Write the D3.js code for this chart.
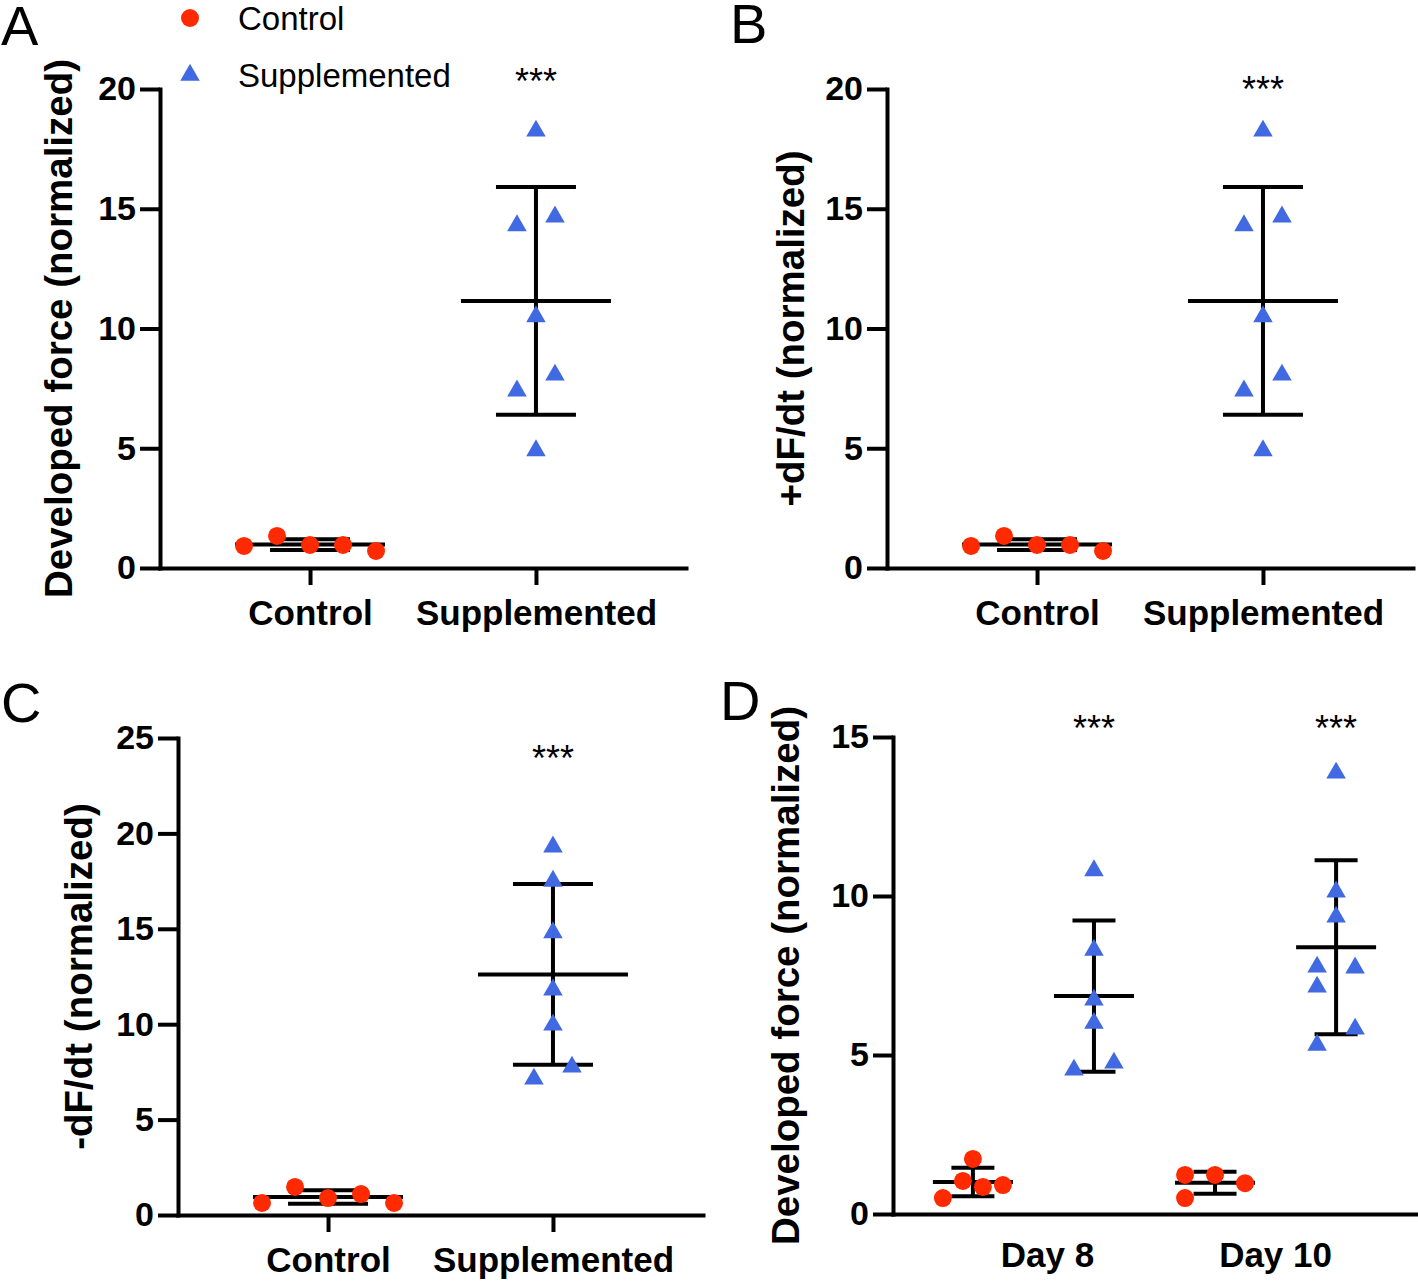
<!DOCTYPE html>
<html><head><meta charset="utf-8">
<script src="https://cdn.jsdelivr.net/npm/d3@7"></script>
<style>body{margin:0;background:#fff}svg{display:block}</style>
</head><body>
<svg id="chart" width="1418" height="1282"></svg>
<script>
// ---------------- DATA ----------------
const groupsAB = ["Control", "Supplemented"];
const groupsD = ["Day 8", "Day 10"];
const seriesNames = ["Control", "Supplemented"];

const panelA_control = [0.92, 1.34, 0.96, 0.96, 0.71];
const panelA_supp = [18.25, 14.3, 14.66, 10.5, 8.06, 7.4, 4.9];
const panelB_control = [0.92, 1.34, 0.96, 0.96, 0.71];
const panelB_supp = [18.25, 14.3, 14.66, 10.5, 8.06, 7.4, 4.9];
const panelC_control = [0.63, 1.47, 0.89, 1.1, 0.63];
const panelC_supp = [19.3, 17.5, 14.8, 11.8, 9.96, 7.76, 7.13];
const panelD_control8 = [0.5, 1.04, 1.73, 0.85, 0.91];
const panelD_supp8 = [10.8, 8.3, 6.73, 6.0, 4.53, 4.75];
const panelD_control10 = [1.23, 0.5, 1.23, 0.97];
const panelD_supp10 = [13.87, 10.13, 9.34, 7.77, 7.74, 7.14, 5.82, 5.31];

const ticksAB = [0, 5, 10, 15, 20];
const ticksC = [0, 5, 10, 15, 20, 25];
const ticksD = [0, 5, 10, 15];
const significance = "***";

// ---------------- STYLE / LAYOUT ----------------
const RED = "#ff2a00", BLUE = "#4169e1";
const FONT = "'Liberation Sans', Arial, Helvetica, sans-serif";
const svg = d3.select("#chart");

function drawPanel(cfg) {
  const g = svg.append("g");
  const y = d3.scaleLinear().domain([0, cfg.yMax]).range([cfg.yBottom, cfg.yTop]);
  const x = d3.scalePoint().domain(cfg.keys).range([cfg.xLeft, cfg.xRight]).padding(cfg.pad);

  const ya = g.append("g").attr("transform", `translate(${cfg.xLeft},0)`)
    .call(d3.axisLeft(y).tickValues(cfg.ticks).tickSize(20).tickSizeOuter(0).tickPadding(4));
  const xa = g.append("g").attr("transform", `translate(0,${cfg.yBottom})`)
    .call(d3.axisBottom(x).tickSize(cfg.xTicks ? 17 : 0).tickSizeOuter(0).tickFormat(cfg.xLabels ? (d => cfg.xLabels[d]) : () => "").tickPadding(8));
  [ya, xa].forEach(a => {
    a.selectAll("path.domain").attr("stroke", "#000").attr("stroke-width", 4).attr("stroke-linecap", "square");
    a.selectAll(".tick line").attr("stroke", "#000").attr("stroke-width", 4);
    a.selectAll("text").attr("fill", "#000").style("font-family", FONT).style("font-weight", "bold");
  });
  ya.selectAll("text").style("font-size", "34px");
  xa.selectAll("text").style("font-size", "35px").attr("dy", "0.9em");

  cfg.series.forEach(s => {
    const m = d3.mean(s.values), sd = d3.deviation(s.values);
    const cx = x(s.key);
    const eb = g.append("g").attr("stroke", "#000").attr("stroke-width", 4).attr("fill", "none");
    eb.append("line").attr("x1", cx).attr("x2", cx).attr("y1", y(m - sd)).attr("y2", y(m + sd));
    eb.append("line").attr("x1", cx - cfg.meanW / 2).attr("x2", cx + cfg.meanW / 2).attr("y1", y(m)).attr("y2", y(m));
    [m - sd, m + sd].forEach(v => eb.append("line").attr("x1", cx - cfg.capW / 2).attr("x2", cx + cfg.capW / 2).attr("y1", y(v)).attr("y2", y(v)));
  });
  cfg.series.forEach(s => {
    const cx = x(s.key);
    s.values.forEach((v, i) => {
      const px = cx + s.lanes[i] * s.spacing, py = y(v);
      if (s.type === "circle") {
        g.append("circle").attr("cx", px).attr("cy", py).attr("r", 9).attr("fill", RED);
      } else {
        g.append("path").attr("d", d3.symbol(d3.symbolTriangle, 165)()).attr("transform", `translate(${px},${py})`).attr("fill", BLUE);
      }
    });
    if (s.star) {
      g.append("text").attr("x", cx).attr("y", s.starY).attr("text-anchor", "middle")
        .style("font-family", FONT).style("font-size", "36px").text(significance);
    }
  });

  if (cfg.groupLabels) {
    cfg.groupLabels.forEach(gl => {
      g.append("text").attr("x", (x(gl.a) + x(gl.b)) / 2 + gl.dx).attr("y", cfg.yBottom + 53)
        .attr("text-anchor", "middle").style("font-family", FONT).style("font-weight", "bold").style("font-size", "35px").text(gl.text);
    });
  }

  g.append("text").attr("transform", `translate(${cfg.titleX},${(cfg.yTop + cfg.yBottom) / 2}) rotate(-90)`)
    .attr("text-anchor", "middle").attr("dominant-baseline", "central")
    .style("font-family", FONT).style("font-weight", "bold").style("font-size", "38.5px").text(cfg.title);

  g.append("text").attr("x", cfg.letterX).attr("y", cfg.letterY)
    .style("font-family", FONT).style("font-size", "56px").text(cfg.letter);
}

drawPanel({
  letter: "A", letterX: 1, letterY: 45, title: "Developed force (normalized)", titleX: 58,
  xLeft: 160, xRight: 686, yTop: 89, yBottom: 568, yMax: 20, ticks: ticksAB, pad: 0.664,
  keys: groupsAB, xLabels: {Control: groupsAB[0], Supplemented: groupsAB[1]}, xTicks: true, meanW: 150, capW: 80,
  series: [
    {key: groupsAB[0], values: panelA_control, type: "circle", lanes: [-2, -1, 0, 1, 2], spacing: 33},
    {key: groupsAB[1], values: panelA_supp, type: "tri", lanes: [0, -1, 1, 0, 1, -1, 0], spacing: 19, star: true, starY: 94}
  ]
});
drawPanel({
  letter: "B", letterX: 730, letterY: 43, title: "+dF/dt (normalized)", titleX: 790,
  xLeft: 887, xRight: 1413, yTop: 89, yBottom: 568, yMax: 20, ticks: ticksAB, pad: 0.664,
  keys: groupsAB, xLabels: {Control: groupsAB[0], Supplemented: groupsAB[1]}, xTicks: true, meanW: 150, capW: 80,
  series: [
    {key: groupsAB[0], values: panelB_control, type: "circle", lanes: [-2, -1, 0, 1, 2], spacing: 33},
    {key: groupsAB[1], values: panelB_supp, type: "tri", lanes: [0, -1, 1, 0, 1, -1, 0], spacing: 19, star: true, starY: 102}
  ]
});
drawPanel({
  letter: "C", letterX: 1, letterY: 722, title: "-dF/dt (normalized)", titleX: 78,
  xLeft: 178, xRight: 703, yTop: 738, yBottom: 1215, yMax: 25, ticks: ticksC, pad: 0.667,
  keys: groupsAB, xLabels: {Control: groupsAB[0], Supplemented: groupsAB[1]}, xTicks: true, meanW: 150, capW: 80,
  series: [
    {key: groupsAB[0], values: panelC_control, type: "circle", lanes: [-2, -1, 0, 1, 2], spacing: 33},
    {key: groupsAB[1], values: panelC_supp, type: "tri", lanes: [0, 0, 0, 0, 0, 1, -1], spacing: 19, star: true, starY: 771}
  ]
});
drawPanel({
  letter: "D", letterX: 720, letterY: 720, title: "Developed force (normalized)", titleX: 785,
  xLeft: 893, xRight: 1416, yTop: 737, yBottom: 1214, yMax: 15, ticks: ticksD, pad: 0.66,
  keys: ["c8", "s8", "c10", "s10"], xTicks: false, meanW: 80, capW: 43,
  groupLabels: [{a: "c8", b: "s8", text: groupsD[0], dx: 14}, {a: "c10", b: "s10", text: groupsD[1], dx: 0}],
  series: [
    {key: "c8", values: panelD_control8, type: "circle", lanes: [-3, -1, 0, 1, 3], spacing: 10},
    {key: "s8", values: panelD_supp8, type: "tri", lanes: [0, 0, 0, 0, -2, 2], spacing: 10, star: true, starY: 741},
    {key: "c10", values: panelD_control10, type: "circle", lanes: [-3, -3, 0, 3], spacing: 10},
    {key: "s10", values: panelD_supp10, type: "tri", lanes: [0, 0, 0, -2, 2, -2, 2, -2], spacing: 9.5, star: true, starY: 741}
  ]
});

const lg = svg.append("g");
lg.append("circle").attr("cx", 190).attr("cy", 18).attr("r", 9).attr("fill", RED);
lg.append("path").attr("d", d3.symbol(d3.symbolTriangle, 165)()).attr("transform", "translate(190,75)").attr("fill", BLUE);
lg.append("text").attr("x", 238).attr("y", 30).style("font-family", FONT).style("font-size", "33px").text(seriesNames[0]);
lg.append("text").attr("x", 238).attr("y", 87).style("font-family", FONT).style("font-size", "33px").text(seriesNames[1]);
</script>
</body></html>
